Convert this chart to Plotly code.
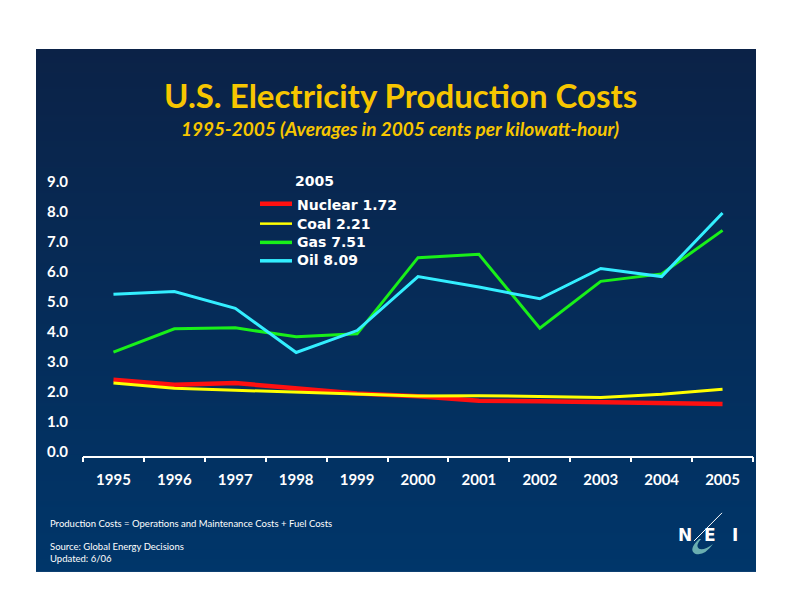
import plotly.graph_objects as go

# ---------------- data ----------------
years = ["1995", "1996", "1997", "1998", "1999", "2000", "2001", "2002", "2003", "2004", "2005"]
nuclear = [2.53, 2.36, 2.42, 2.25, 2.07, 1.98, 1.83, 1.81, 1.78, 1.75, 1.72]
coal = [2.42, 2.25, 2.18, 2.12, 2.05, 1.99, 2.00, 1.97, 1.94, 2.05, 2.21]
gas = [3.45, 4.23, 4.26, 3.96, 4.06, 6.60, 6.71, 4.25, 5.81, 6.06, 7.51]
oil = [5.38, 5.47, 4.91, 3.44, 4.17, 5.97, 5.62, 5.23, 6.24, 5.97, 8.09]
series_names = ["Nuclear", "Coal", "Gas", "Oil"]
legend_year = "2005"
y_ticks = [0, 1, 2, 3, 4, 5, 6, 7, 8, 9]

W, H = 792, 612


def px(x):
    return x / W


def py(y):
    return 1 - y / H


fig = go.Figure()

# background gradient (slide panel) on its own axes, drawn first
fig.add_trace(go.Heatmap(
    x=[0, 1], y=[0, 1], z=[[0, 0], [1, 1]],
    colorscale=[[0, "rgb(0,54,106)"], [1, "rgb(11,34,71)"]],
    zsmooth="best", showscale=False, hoverinfo="skip",
    xaxis="x", yaxis="y",
))

styles = {
    "Nuclear": dict(color="#ff1010", width=4.5),
    "Coal": dict(color="#ffff00", width=3),
    "Gas": dict(color="#19f019", width=3),
    "Oil": dict(color="#33eeff", width=3),
}
series_vals = [nuclear, coal, gas, oil]
for name, vals in zip(series_names, series_vals):
    fig.add_trace(go.Scatter(
        x=years, y=vals, mode="lines",
        name=f"{name} {vals[-1]:.2f}",
        line=dict(**styles[name]),
        xaxis="x2", yaxis="y2", showlegend=False,
    ))

gold = "#f7c600"
font_b = "Lato"
font_leg = "DejaVu Sans"

shapes = []
annotations = []

# legend (drawn by hand for exact spacing)
annotations.append(dict(text=f"<b>{legend_year}</b>", x=px(314), y=py(172.5),
                        xref="paper", yref="paper", showarrow=False,
                        font=dict(family=font_leg, size=14, color="white"),
                        xanchor="center", yanchor="middle"))
line_rows = [195.5, 216, 235.3, 254.3]
text_rows = [196.5, 216, 235, 253.5]
legend_widths = {"Nuclear": 4.5, "Coal": 2.5, "Gas": 3.5, "Oil": 3.5}
for name, vals, ly, ty in zip(series_names, series_vals, line_rows, text_rows):
    shapes.append(dict(type="line", xref="paper", yref="paper",
                       x0=px(260), x1=px(292), y0=py(ly), y1=py(ly),
                       line=dict(color=styles[name]["color"], width=legend_widths[name])))
    annotations.append(dict(text=f"<b>{name} {vals[-1]:.2f}</b>", x=px(295), y=py(ty),
                            xref="paper", yref="paper", showarrow=False,
                            font=dict(family=font_leg, size=14, color="white"),
                            xanchor="left", yanchor="middle"))

# NEI logo decorations
shapes.append(dict(type="path", xref="paper", yref="paper",
                   path=(f"M {px(699)},{py(541)} Q {px(688)},{py(552)} {px(695)},{py(556)} "
                         f"Q {px(704)},{py(559)} {px(713)},{py(546)} "
                         f"Q {px(704)},{py(553)} {px(699)},{py(551)} "
                         f"Q {px(695)},{py(548)} {px(701)},{py(541)} Z"),
                   fillcolor="#6aaeb0", line=dict(width=0)))
shapes.append(dict(type="line", xref="paper", yref="paper",
                   x0=px(694), y0=py(543), x1=px(722), y1=py(514),
                   line=dict(color="white", width=1)))
for letter, xc in [("N", 685), ("E", 709.5), ("I", 734.5)]:
    annotations.append(dict(text=f"<b>{letter}</b>", x=px(xc), y=py(537),
                            xref="paper", yref="paper", showarrow=False,
                            font=dict(family="DejaVu Sans", size=17, color="white"),
                            xanchor="center", yanchor="middle"))

annotations += [
    dict(text="<b>U.S. Electricity Production Costs</b>", x=px(400), y=py(83.5),
         xref="paper", yref="paper", showarrow=False,
         font=dict(family=font_b, size=33, color=gold), xanchor="center", yanchor="middle"),
    dict(text="<b><i>1995-2005 (Averages in 2005 cents per kilowatt-hour)</i></b>", x=px(400), y=py(117.5),
         xref="paper", yref="paper", showarrow=False,
         font=dict(family=font_b, size=19, color=gold), xanchor="center", yanchor="middle"),
    dict(text="Production Costs = Operations and Maintenance Costs + Fuel Costs", x=px(48), y=py(525),
         xref="paper", yref="paper", showarrow=False,
         font=dict(family=font_b, size=9.5, color="white"), xanchor="left", yanchor="middle"),
    dict(text="Source: Global Energy Decisions", x=px(48), y=py(548.5),
         xref="paper", yref="paper", showarrow=False,
         font=dict(family=font_b, size=9.5, color="white"), xanchor="left", yanchor="middle"),
    dict(text="Updated: 6/06", x=px(48), y=py(560.5),
         xref="paper", yref="paper", showarrow=False,
         font=dict(family=font_b, size=9.5, color="white"), xanchor="left", yanchor="middle"),
]

fig.update_layout(
    width=W, height=H,
    margin=dict(l=0, r=0, t=0, b=0),
    paper_bgcolor="white",
    plot_bgcolor="rgba(0,0,0,0)",
    shapes=shapes,
    annotations=annotations,
    showlegend=False,
    xaxis=dict(domain=[px(36), px(756)], range=[0, 1], visible=False, fixedrange=True),
    yaxis=dict(domain=[py(575), py(36)], range=[0, 1], visible=False, fixedrange=True),
    xaxis2=dict(
        domain=[px(83), px(753)],
        anchor="y2",
        type="category",
        range=[-0.5, 10.5],
        showline=True, linecolor="white", linewidth=1.5,
        ticks="outside", tickson="boundaries", ticklen=5, tickcolor="white", tickwidth=1.5,
        showgrid=False, zeroline=False,
        tickfont=dict(family=font_b, size=15, color="white", weight="bold"),
        ticklabelstandoff=10,
        fixedrange=True,
    ),
    yaxis2=dict(
        domain=[py(455), py(455 - 9 * 30.9)],
        anchor="x2",
        range=[0, 9],
        tickvals=y_ticks,
        tickformat=".1f",
        showgrid=False, zeroline=False, showline=False,
        ticks="",
        tickfont=dict(family=font_b, size=15, color="white", weight="bold"),
        ticklabelshift=-4,
        ticklabelstandoff=14,
        fixedrange=True,
    ),
)

fig.write_html("out.html", config={"displayModeBar": False},
               post_script="document.body.style.margin='0px';")
